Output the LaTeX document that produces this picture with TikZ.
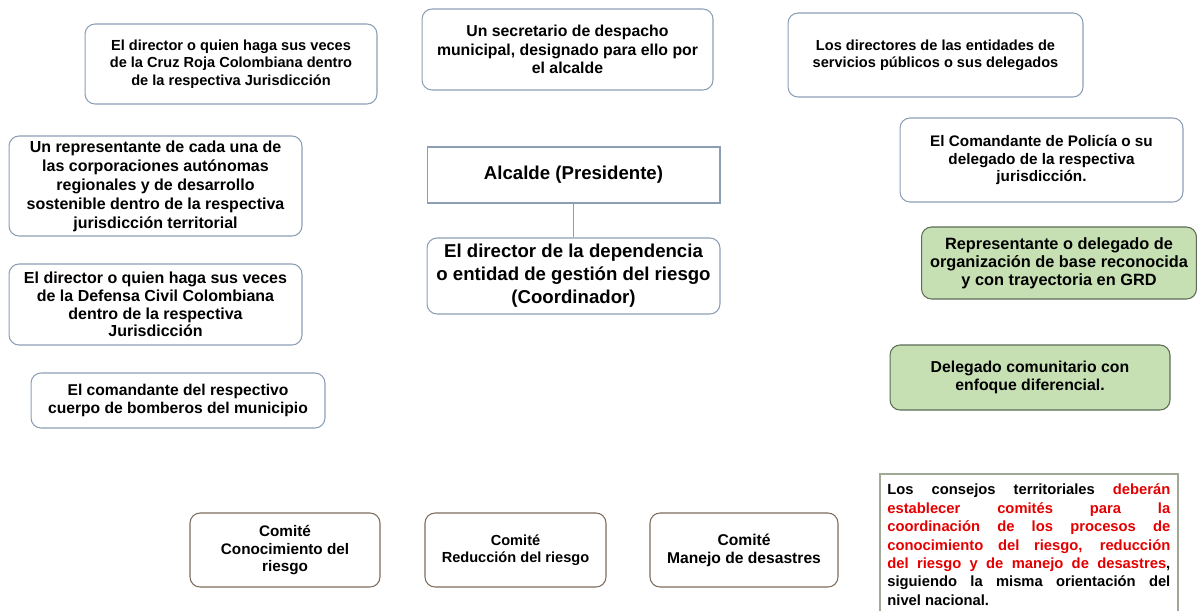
\documentclass[tikz,border=0pt]{standalone}
\usepackage{fontspec}
\setmainfont{Liberation Sans}
\definecolor{borde}{RGB}{140,158,180}
\definecolor{bordecafe}{RGB}{125,108,92}
\definecolor{verde}{RGB}{198,224,180}
\definecolor{bordeverde}{RGB}{92,108,86}
\definecolor{bordenota}{RGB}{160,168,150}
\definecolor{rojo}{RGB}{228,0,0}
\tikzset{
  letra/.style 2 args={font=\bfseries\fontsize{#1}{#2}\selectfont},
  caja/.style={draw=borde, line width=0.6pt, rounded corners=0.2cm, align=center,
    inner sep=2pt, letra={8.3}{9.9}},
  cajaverde/.style={caja, fill=verde, draw=bordeverde},
  comite/.style={caja, draw=bordecafe, minimum width=3.7cm, minimum height=1.48cm},
  jefe/.style={caja, letra={10.6}{13}}
}
\begin{document}
\begin{tikzpicture}[x=0.02cm, y=-0.02cm]
			\useasboundingbox (0,0) rectangle (1197,610);
			
			%miembros a la izquierda
			\node (cruz) at (231,64) [caja, minimum width=5.84cm, minimum height=1.6cm]{El director o quien haga sus veces\\de la Cruz Roja Colombiana dentro\\de la respectiva Jurisdicción};
			\node (corpor) at (155.5,186) [caja, letra={9.1}{10.8}, minimum width=5.86cm, minimum height=2cm]{Un representante de cada una de\\las corporaciones autónomas\\regionales y de desarrollo\\sostenible dentro de la respectiva\\jurisdicción territorial};
			\node (defensa) at (155.5,304.5) [caja, letra={9.1}{10}, minimum width=5.86cm, minimum height=1.62cm]{El director o quien haga sus veces\\de la Defensa Civil Colombiana\\dentro de la respectiva\\Jurisdicción};
			\node (bomber) at (178,400.5) [caja, letra={8.9}{10.3}, minimum width=5.88cm, minimum height=1.1cm]{El comandante del respectivo\\cuerpo de bomberos del municipio};
			
			%centro
			\node (secret) at (567.5,49.5) [caja, letra={9}{10.6}, minimum width=5.82cm, minimum height=1.62cm]{Un secretario de despacho\\municipal, designado para ello por\\el alcalde};
			\node (alcalde) at (573.5,175) [jefe, rounded corners=0pt, minimum width=5.86cm, minimum height=1.12cm]{Alcalde (Presidente)};
			\node (director) at (573.5,276) [jefe, minimum width=5.86cm, minimum height=1.52cm]{El director de la dependencia\\o entidad de gestión del riesgo\\(Coordinador)};
			\draw[draw=borde, line width=0.6pt] (alcalde) -- (director);
			
			%miembros a la derecha
			\node (servic) at (935.5,55) [caja, minimum width=5.9cm, minimum height=1.68cm]{Los directores de las entidades de\\servicios públicos o sus delegados};
			\node (policia) at (1041.5,160) [caja, letra={8.7}{10.2}, minimum width=5.66cm, minimum height=1.68cm]{El Comandante de Policía o su\\delegado de la respectiva\\jurisdicción.};
			\node (grd) at (1059,263) [cajaverde, letra={9.3}{10.2}, minimum width=5.5cm, minimum height=1.44cm]{Representante o delegado de\\organización de base reconocida\\y con trayectoria en GRD};
			\node (comunit) at (1030,377.5) [cajaverde, letra={9}{10.4}, minimum width=5.6cm, minimum height=1.3cm]{Delegado comunitario con\\enfoque diferencial.};
			
			%comites
			\node (conoc) at (285,550) [comite, letra={8.7}{10.2}, minimum width=3.8cm]{Comité\\Conocimiento del\\riesgo};
			\node (reduc) at (515.5,550) [comite, minimum width=3.62cm]{Comité\\Reducción del riesgo};
			\node (manejo) at (744,550) [comite, letra={8.9}{10.2}, minimum width=3.76cm]{Comité\\Manejo de desastres};
			
			%nota
			\node (nota) at (879,473) [anchor=north west, draw=bordenota, line width=1pt, text width=5.66cm,
				inner xsep=0.15cm, inner ysep=0.2cm, align=justify, letra={8.4}{10.5}]{\tolerance=9999 Los consejos territoriales \textcolor{rojo}{deberán}\linebreak
				\textcolor{rojo}{establecer comités para la}\linebreak
				\textcolor{rojo}{coordinación de los procesos de}\linebreak
				\textcolor{rojo}{conocimiento del riesgo, reducción}\linebreak
				\textcolor{rojo}{del riesgo y de manejo de desastres},\linebreak
				siguiendo la misma orientación del\linebreak
				nivel nacional.};
		\end{tikzpicture}
\end{document}
